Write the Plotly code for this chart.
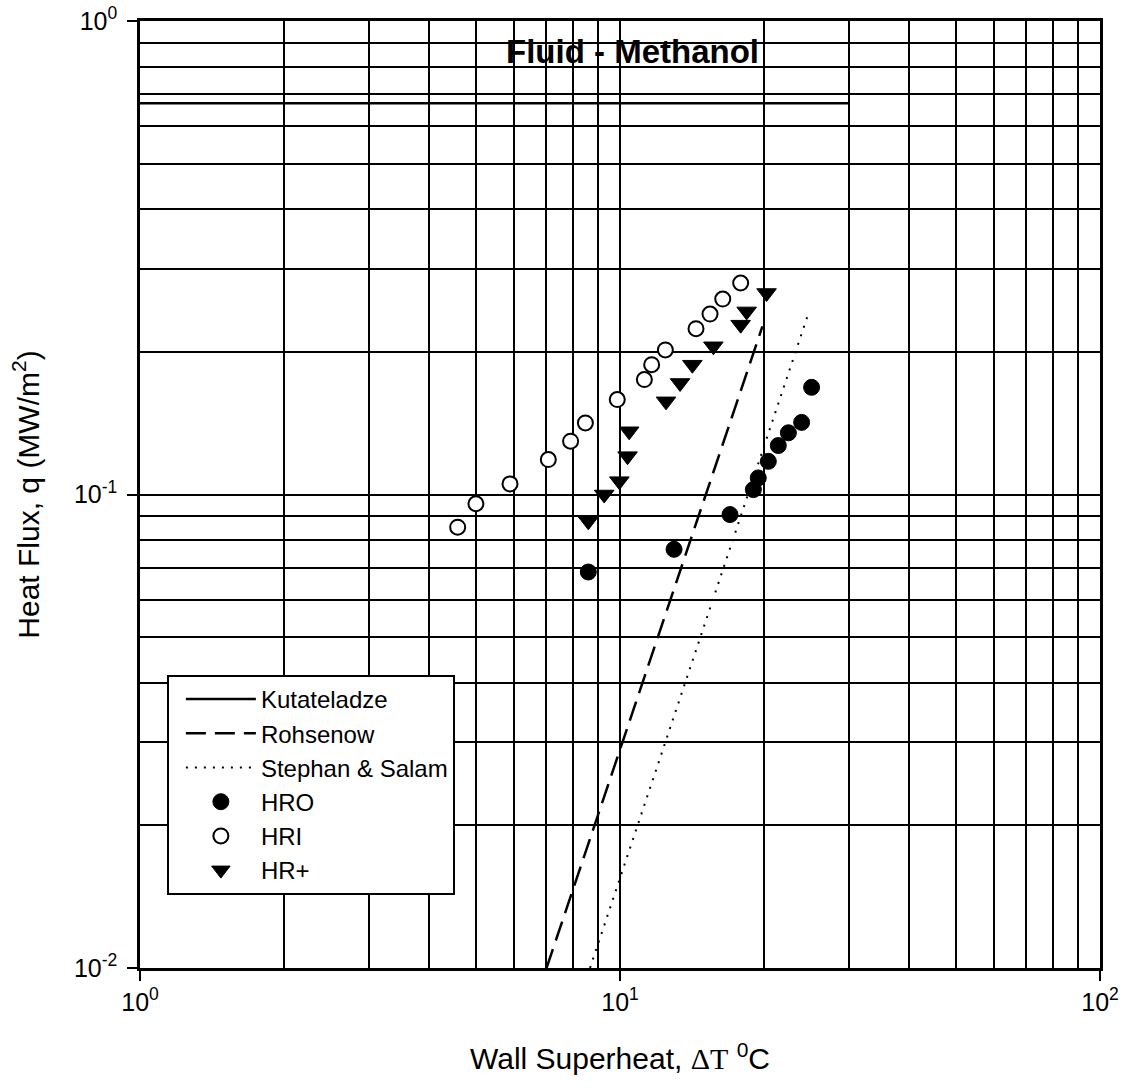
import plotly.graph_objects as go

# Wall superheat (deg C) and heat flux (MW/m^2) for methanol pool boiling
hro_dt = [8.59, 12.96, 16.95, 18.96, 19.41, 20.37, 21.37, 22.43, 23.9, 25.07]
hro_q = [0.0686, 0.0766, 0.0907, 0.1024, 0.1084, 0.1175, 0.1269, 0.135, 0.142, 0.1684]

hri_dt = [4.59, 5.01, 5.90, 7.09, 7.89, 8.47, 9.87, 11.24, 11.64, 12.43, 14.4, 15.4, 16.37, 17.84]
hri_q = [0.0853, 0.0956, 0.1053, 0.1185, 0.1296, 0.1416, 0.1587, 0.1749, 0.188, 0.202,
         0.224, 0.2405, 0.2587, 0.2797]

hrp_dt = [8.59, 9.27, 9.97, 10.37, 10.45, 12.47, 13.34, 14.15, 15.65, 17.84, 18.36, 20.2]
hrp_q = [0.0878, 0.100, 0.1067, 0.1205, 0.136, 0.1573, 0.172, 0.188, 0.2056, 0.2284,
         0.2436, 0.2664]

# Correlation lines (end points)
kut_dt = [1.0, 30.0]
kut_q = [0.67, 0.67]
roh_dt = [7.03, 19.8]
roh_q = [0.01, 0.2265]
ss_dt = [8.66, 24.7]
ss_q = [0.01, 0.2416]

x_ticks = [1, 10, 100]
x_ticktext = ["10<sup>0</sup>", "10<sup>1</sup>", "10<sup>2</sup>"]
y_ticks = [0.01, 0.1, 1]
y_ticktext = ["10<sup>-2</sup>", "10<sup>-1</sup>", "10<sup>0</sup>"]

x_minor = [m * 10 ** e for e in range(0, 2) for m in range(2, 10)]
y_minor = [m * 10.0 ** e for e in range(-2, 0) for m in range(2, 10)]

FONT = "Liberation Sans, Arial, sans-serif"

fig = go.Figure()

fig.add_trace(go.Scatter(x=kut_dt, y=kut_q, mode="lines", name="Kutateladze",
                         line=dict(color="black", width=2.5)))
fig.add_trace(go.Scatter(x=roh_dt, y=roh_q, mode="lines", name="Rohsenow",
                         line=dict(color="black", width=2.5, dash="20px,9px")))
fig.add_trace(go.Scatter(x=ss_dt, y=ss_q, mode="lines", name="Stephan & Salam",
                         line=dict(color="black", width=2, dash="2px,7px")))
fig.add_trace(go.Scatter(x=hro_dt, y=hro_q, mode="markers", name="HRO",
                         marker=dict(symbol="circle", size=16, color="black",
                                     line=dict(color="black", width=1))))
fig.add_trace(go.Scatter(x=hri_dt, y=hri_q, mode="markers", name="HRI",
                         marker=dict(symbol="circle", size=15, color="white",
                                     line=dict(color="black", width=2))))
fig.add_trace(go.Scatter(x=hrp_dt, y=hrp_q, mode="markers", name="HR+",
                         marker=dict(symbol="triangle-down", size=17, color="black",
                                     line=dict(color="black", width=1))))

axis_common = dict(
    type="log",
    showline=True, linecolor="black", linewidth=2.5, mirror=True,
    ticks="outside", ticklen=10, tickwidth=2, tickcolor="black",
    tickfont=dict(family=FONT, size=25, color="black"),
    showgrid=True, gridcolor="black", gridwidth=1.6,
    zeroline=False,
)

fig.update_xaxes(
    range=[0, 2], tickmode="array", tickvals=x_ticks, ticktext=x_ticktext,
    minor=dict(tickmode="array", tickvals=x_minor, showgrid=True,
               gridcolor="black", gridwidth=1.6, ticks=""),
    title=dict(text="Wall Superheat, <span style=\"font-family:'Liberation Serif'\">ΔT</span> <sup>0</sup>C",
               font=dict(family=FONT, size=30, color="black"), standoff=34),
    automargin=False,
    **axis_common,
)
fig.update_yaxes(
    range=[-2, 0], tickmode="array", tickvals=y_ticks, ticktext=y_ticktext,
    minor=dict(tickmode="array", tickvals=y_minor, showgrid=True,
               gridcolor="black", gridwidth=1.6, ticks=""),
    ticklabelstandoff=5,
    title=dict(text="Heat Flux, q (MW/m<sup>2</sup>)",
               font=dict(family=FONT, size=30, color="black"), standoff=26),
    automargin=False,
    **axis_common,
)

fig.add_annotation(
    text="<b>Fluid - Methanol</b>", xref="paper", yref="paper",
    x=0.5135, y=0.968, xanchor="center", yanchor="middle", showarrow=False,
    font=dict(family=FONT, size=33, color="black"),
)

fig.update_layout(
    width=1129, height=1089, autosize=False,
    margin=dict(l=140, r=29, t=21, b=121),
    paper_bgcolor="white", plot_bgcolor="white",
    font=dict(family=FONT, color="black"),
    showlegend=True,
    legend=dict(
        x=0.028, y=0.3094, xanchor="left", yanchor="top",
        bgcolor="white", bordercolor="black", borderwidth=2,
        font=dict(family=FONT, size=24, color="black"),
        itemwidth=70, indentation=12, tracegroupgap=0,
    ),
)

fig.write_html("out.html")
